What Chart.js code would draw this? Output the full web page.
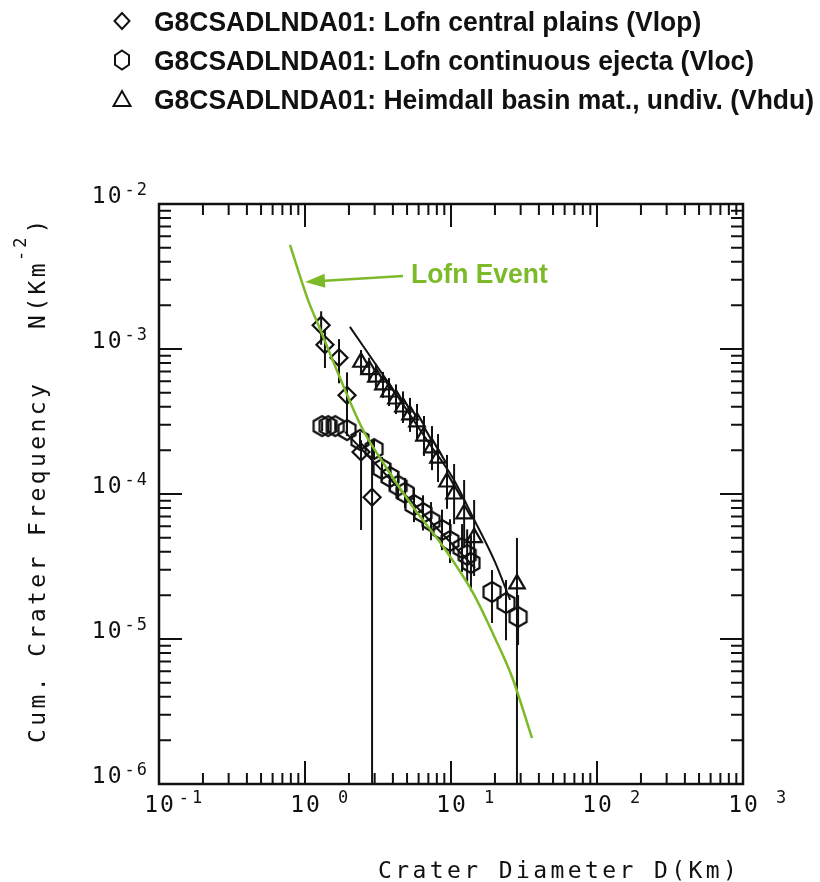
<!DOCTYPE html>
<html>
<head>
<meta charset="utf-8">
<script src="https://cdn.jsdelivr.net/npm/chart.js@4.4.1/dist/chart.umd.min.js"></script>
<style>
  html, body { margin: 0; padding: 0; background: #fff; }
  #wrap { width: 820px; height: 882px; position: relative; }
</style>
</head>
<body>
<div id="wrap"><canvas id="c"></canvas></div>
<script>
// axis decades (tick labels are 10^exp)
const xTickExp = [-1, 0, 1, 2, 3];
const yTickExp = [-2, -3, -4, -5, -6];

// Vlop - Lofn central plains (diamonds)
const vlopD  = [1.29, 1.37, 1.71, 1.94, 2.42, 2.88];
const vlopN  = [1.46e-3, 1.07e-3, 8.7e-4, 4.8e-4, 1.95e-4, 9.5e-5];
const vlopHi = [1.82e-3, 1.36e-3, 1.17e-3, 6.9e-4, 2.35e-4, 2.35e-4];
const vlopLo = [1.07e-3, 7.4e-4, 5.8e-4, 2.64e-4, 5.65e-5, 0];

// Vloc - Lofn continuous ejecta (hexagons)
const vlocD  = [1.31, 1.44, 1.61, 1.94, 2.38, 2.97, 3.37, 3.82, 4.34, 4.84, 5.58,
                6.43, 7.30, 8.68, 9.84, 11.9, 12.9, 13.7, 19.1, 23.8, 28.8];
const vlocN  = [2.94e-4, 2.94e-4, 2.94e-4, 2.76e-4, 2.36e-4, 2.04e-4, 1.49e-4, 1.31e-4,
                1.14e-4, 1.02e-4, 8.4e-5, 7.4e-5, 6.5e-5, 5.65e-5, 4.74e-5, 4.25e-5,
                3.8e-5, 3.34e-5, 2.11e-5, 1.77e-5, 1.42e-5];
const vlocHi = [3.18e-4, 3.18e-4, 3.18e-4, 3.03e-4, 2.67e-4, 2.39e-4, 1.8e-4, 1.61e-4,
                1.42e-4, 1.29e-4, 1.1e-4, 9.8e-5, 8.8e-5, 7.8e-5, 6.7e-5, 6.2e-5,
                5.7e-5, 5.2e-5, 2.99e-5, 2.55e-5, 2.01e-5];
const vlocLo = [2.72e-4, 2.72e-4, 2.72e-4, 2.51e-4, 2.07e-4, 1.74e-4, 1.23e-4, 1.06e-4,
                9.1e-5, 8.0e-5, 6.4e-5, 5.6e-5, 4.8e-5, 4.1e-5, 3.34e-5, 2.9e-5,
                2.5e-5, 2.14e-5, 1.29e-5, 9.8e-6, 9.1e-6];

// Vhdu - Heimdall basin material, undivided (triangles)
const vhduD  = [2.42, 2.75, 3.06, 3.42, 3.76, 4.20, 4.69, 5.24, 5.85, 6.53, 7.41,
                8.15, 9.39, 10.5, 12.3, 14.4, 28.3];
const vhduN  = [8.1e-4, 7.2e-4, 6.4e-4, 5.65e-4, 5.05e-4, 4.52e-4, 3.98e-4, 3.51e-4,
                3.14e-4, 2.51e-4, 2.08e-4, 1.77e-4, 1.21e-4, 1.0e-4, 7.3e-5, 5.0e-5, 2.4e-5];
const vhduHi = [9.84e-4, 8.7e-4, 7.9e-4, 6.95e-4, 6.3e-4, 5.7e-4, 5.1e-4, 4.6e-4,
                4.18e-4, 3.45e-4, 2.94e-4, 2.59e-4, 1.86e-4, 1.61e-4, 1.25e-4, 9.1e-5, 4.98e-5];
const vhduLo = [6.7e-4, 5.9e-4, 5.2e-4, 4.6e-4, 4.04e-4, 3.56e-4, 3.09e-4, 2.68e-4,
                2.36e-4, 1.83e-4, 1.46e-4, 1.21e-4, 7.9e-5, 6.2e-5, 4.25e-5, 2.72e-5, 0];

// fitted curves
const vhduFitD = [2.03, 3.82, 6.85, 10.3, 14.15, 20.0, 25.4];
const vhduFitN = [1.42e-3, 5.65e-4, 2.35e-4, 1.29e-4, 6.9e-5, 3.4e-5, 1.86e-5];
const vlocFitD = [1.88, 14.6];
const vlocFitN = [2.68e-4, 3.09e-5];

// Lofn event production curve (green)
const lofnD = [0.789, 1.048, 1.267, 1.737, 2.457, 3.264, 5.49, 8.68, 14.15, 20.0, 26.2, 35.9];
const lofnN = [5.22e-3, 2.18e-3, 1.374e-3, 6.31e-4, 2.85e-4, 1.77e-4, 8.14e-5, 4.45e-5,
               2.08e-5, 1.016e-5, 5.47e-6, 2.07e-6];

// annotation: label anchor and arrow (data coordinates)
const lofnLabel = 'Lofn Event';
const lofnLabelAt = [5.32, 2.85e-3];
const lofnArrowFrom = [4.69, 3.19e-3];
const lofnArrowTo = [1.0, 2.90e-3];

const legendLabels = [
  'G8CSADLNDA01: Lofn central plains (Vlop)',
  'G8CSADLNDA01: Lofn continuous ejecta (Vloc)',
  'G8CSADLNDA01: Heimdall basin mat., undiv. (Vhdu)'
];

const INK = '#111';
const GREEN = '#7cba2a';
const MONO = '"DejaVu Sans Mono", "Liberation Mono", monospace';
const SANS = '"Liberation Sans", Arial, sans-serif';

const pts = (xs, ys) => xs.map((v, i) => ({ x: v, y: ys[i] }));

function hexagonPath(g, cx, cy, hw, hh) {
  g.beginPath();
  g.moveTo(cx, cy - hh);
  g.lineTo(cx + hw, cy - hh / 2);
  g.lineTo(cx + hw, cy + hh / 2);
  g.lineTo(cx, cy + hh);
  g.lineTo(cx - hw, cy + hh / 2);
  g.lineTo(cx - hw, cy - hh / 2);
  g.closePath();
}

function hexagonImage() {
  const c = document.createElement('canvas');
  c.width = 22; c.height = 26;
  const g = c.getContext('2d');
  hexagonPath(g, 11, 13, 8.5, 10);
  g.lineWidth = 2.2;
  g.strokeStyle = INK;
  g.stroke();
  return c;
}

const errorBars = {
  id: 'errorBars',
  beforeDatasetsDraw(chart) {
    const { ctx, chartArea: a, scales: { x, y } } = chart;
    ctx.save();
    ctx.beginPath();
    ctx.rect(a.left, a.top, a.right - a.left, a.bottom - a.top);
    ctx.clip();
    ctx.strokeStyle = INK;
    ctx.lineWidth = 2;
    chart.data.datasets.forEach(ds => {
      if (!ds.errHi) return;
      ds.data.forEach((p, i) => {
        const px = x.getPixelForValue(p.x);
        const top = y.getPixelForValue(ds.errHi[i]);
        const bot = ds.errLo[i] > 0 ? y.getPixelForValue(ds.errLo[i]) : a.bottom;
        ctx.beginPath();
        ctx.moveTo(px, top);
        ctx.lineTo(px, bot);
        ctx.stroke();
      });
    });
    ctx.restore();
  }
};

function textW(ctx, s) { return ctx.measureText(s).width; }

const frame = {
  id: 'frame',
  afterDraw(chart) {
    const { ctx, chartArea: a, scales: { x, y } } = chart;
    ctx.save();
    ctx.strokeStyle = INK;
    ctx.fillStyle = INK;

    // box
    ctx.lineWidth = 2.5;
    ctx.strokeRect(a.left, a.top, a.right - a.left, a.bottom - a.top);

    // inward ticks on all four sides
    ctx.lineWidth = 2;
    const x0 = xTickExp[0], x1 = xTickExp[xTickExp.length - 1];
    for (let e = x0; e <= x1; e++) {
      for (let m = 1; m <= 9; m++) {
        if (e === x1 && m > 1) break;
        const px = x.getPixelForValue(m * Math.pow(10, e));
        const len = m === 1 ? 23 : 11;
        ctx.beginPath();
        ctx.moveTo(px, a.bottom); ctx.lineTo(px, a.bottom - len);
        ctx.moveTo(px, a.top); ctx.lineTo(px, a.top + len);
        ctx.stroke();
      }
    }
    const yLo = Math.min(...yTickExp), yHi = Math.max(...yTickExp);
    for (let e = yLo; e <= yHi; e++) {
      for (let m = 1; m <= 9; m++) {
        if (e === yHi && m > 1) break;
        const py = y.getPixelForValue(m * Math.pow(10, e));
        const len = m === 1 ? 23 : 12;
        ctx.beginPath();
        ctx.moveTo(a.left, py); ctx.lineTo(a.left + len, py);
        ctx.moveTo(a.right, py); ctx.lineTo(a.right - len, py);
        ctx.stroke();
      }
    }

    // tick labels  10^n
    const bigFont = '23px ' + MONO, supFont = '17px ' + MONO;
    ctx.textBaseline = 'alphabetic';
    ctx.textAlign = 'left';
    yTickExp.forEach(e => {
      const py = y.getPixelForValue(Math.pow(10, e));
      const sup = String(e);
      ctx.font = supFont; ctx.letterSpacing = '2px';
      const sw = textW(ctx, sup) - 2;
      const sx = a.left - 12 - sw;
      ctx.fillText(sup, sx, py - 9);
      ctx.font = bigFont; ctx.letterSpacing = '2px';
      const tw = textW(ctx, '10') - 2;
      ctx.fillText('10', sx - 3 - tw, py - 1);
    });
    xTickExp.forEach(e => {
      const px = x.getPixelForValue(Math.pow(10, e));
      ctx.font = bigFont; ctx.letterSpacing = '2px';
      const tw = textW(ctx, '10') - 2;
      ctx.fillText('10', px - tw / 2, a.bottom + 28);
      ctx.font = supFont; ctx.letterSpacing = '3px';
      const sup = e < 0 ? String(e) : ' ' + e;
      ctx.fillText(sup, px + tw / 2 + 5, a.bottom + 19);
    });

    // axis titles
    ctx.font = '23px ' + MONO;
    ctx.letterSpacing = '3.4px';
    ctx.fillText('Crater Diameter D(Km)', a.left + 219, a.bottom + 94);

    ctx.save();
    ctx.translate(a.left - 114, a.bottom - 41);
    ctx.rotate(-Math.PI / 2);
    const yt1 = 'Cum. Crater Frequency   N(Km';
    ctx.fillText(yt1, 0, 0);
    let off = textW(ctx, yt1);
    ctx.font = '17px ' + MONO; ctx.letterSpacing = '3px';
    ctx.fillText('-2', off - 1, -19);
    off += textW(ctx, '-2');
    ctx.font = '23px ' + MONO; ctx.letterSpacing = '3.4px';
    ctx.fillText(')', off, 0);
    ctx.restore();
    ctx.letterSpacing = '0px';

    // legend (condensed bold text)
    ctx.font = 'bold 28px ' + SANS;
    const sx = 660 / textW(ctx, legendLabels[2]);
    const rowsY = [31, 70, 109];
    legendLabels.forEach((lab, i) => {
      const by = rowsY[i];
      ctx.save();
      ctx.translate(154, by);
      ctx.scale(sx, 1);
      ctx.fillText(lab, 0, 0);
      ctx.restore();
      const cx = 122, cy = by - 10;
      ctx.lineWidth = 2;
      ctx.beginPath();
      if (i === 0) {
        ctx.moveTo(cx, cy - 8); ctx.lineTo(cx + 7.5, cy); ctx.lineTo(cx, cy + 8); ctx.lineTo(cx - 7.5, cy); ctx.closePath();
      } else if (i === 1) {
        hexagonPath(ctx, cx, cy, 7, 9.5);
      } else {
        ctx.moveTo(cx, cy - 8); ctx.lineTo(cx + 8.5, cy + 7); ctx.lineTo(cx - 8.5, cy + 7); ctx.closePath();
      }
      ctx.stroke();
    });

    // Lofn Event annotation
    ctx.fillStyle = GREEN;
    ctx.strokeStyle = GREEN;
    const lx = x.getPixelForValue(lofnLabelAt[0]), ly = y.getPixelForValue(lofnLabelAt[1]);
    ctx.save();
    ctx.translate(lx, ly);
    ctx.scale(sx, 1);
    ctx.fillText(lofnLabel, 0, 0);
    ctx.restore();
    const fx = x.getPixelForValue(lofnArrowFrom[0]), fy = y.getPixelForValue(lofnArrowFrom[1]);
    const tx = x.getPixelForValue(lofnArrowTo[0]), ty = y.getPixelForValue(lofnArrowTo[1]);
    const ang = Math.atan2(ty - fy, tx - fx);
    const hl = 20, hw = 7;
    const bx = tx - Math.cos(ang) * hl, by = ty - Math.sin(ang) * hl;
    ctx.lineWidth = 2.5;
    ctx.beginPath(); ctx.moveTo(fx, fy); ctx.lineTo(bx, by); ctx.stroke();
    ctx.beginPath();
    ctx.moveTo(tx, ty);
    ctx.lineTo(bx + Math.sin(ang) * hw, by - Math.cos(ang) * hw);
    ctx.lineTo(bx - Math.sin(ang) * hw, by + Math.cos(ang) * hw);
    ctx.closePath();
    ctx.fill();

    ctx.restore();
  }
};

const lineDs = (xs, ys, color, width) => ({
  data: pts(xs, ys), showLine: true, pointRadius: 0, borderColor: color,
  borderWidth: width, backgroundColor: color, cubicInterpolationMode: 'monotone', tension: 0.4
});

new Chart(document.getElementById('c'), {
  type: 'scatter',
  data: {
    datasets: [
      lineDs(lofnD, lofnN, GREEN, 2.5),
      lineDs(vhduFitD, vhduFitN, INK, 2),
      lineDs(vlocFitD, vlocFitN, INK, 2),
      {
        label: legendLabels[0], data: pts(vlopD, vlopN), errHi: vlopHi, errLo: vlopLo,
        pointStyle: 'rectRot', pointRadius: 8.5, borderWidth: 2.2,
        borderColor: INK, backgroundColor: 'rgba(0,0,0,0)'
      },
      {
        label: legendLabels[1], data: pts(vlocD, vlocN), errHi: vlocHi, errLo: vlocLo,
        pointStyle: hexagonImage(), pointRadius: 9, borderWidth: 2.2,
        borderColor: INK, backgroundColor: 'rgba(0,0,0,0)'
      },
      {
        label: legendLabels[2], data: pts(vhduD, vhduN), errHi: vhduHi, errLo: vhduLo,
        pointStyle: 'triangle', pointRadius: 9, borderWidth: 2.2,
        borderColor: INK, backgroundColor: 'rgba(0,0,0,0)'
      }
    ]
  },
  options: {
    responsive: true,
    maintainAspectRatio: false,
    animation: false,
    events: [],
    layout: { padding: { left: 159, right: 77, top: 204, bottom: 98 } },
    scales: {
      x: { type: 'logarithmic', display: false,
           min: Math.pow(10, xTickExp[0]), max: Math.pow(10, xTickExp[xTickExp.length - 1]) },
      y: { type: 'logarithmic', display: false,
           min: Math.pow(10, Math.min(...yTickExp)), max: Math.pow(10, Math.max(...yTickExp)) }
    },
    plugins: { legend: { display: false }, tooltip: { enabled: false } }
  },
  plugins: [errorBars, frame]
});
</script>
</body>
</html>
